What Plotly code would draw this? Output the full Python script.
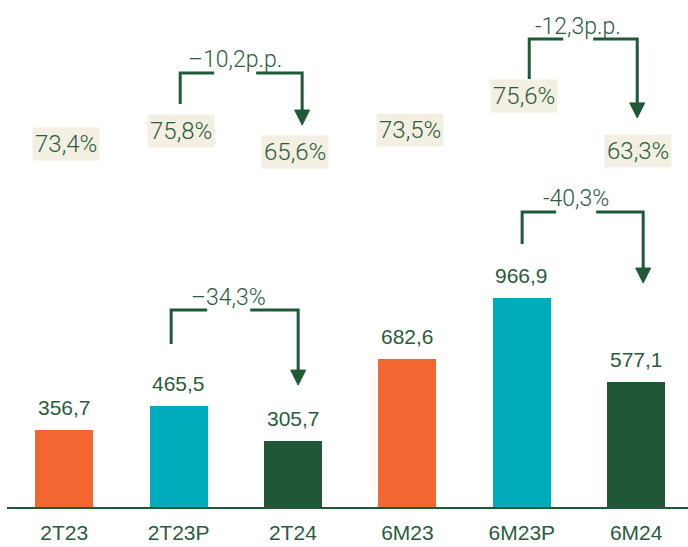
import plotly.graph_objects as go

# Data
categories = ["2T23", "2T23P", "2T24", "6M23", "6M23P", "6M24"]
values = [356.7, 465.5, 305.7, 682.6, 966.9, 577.1]
value_labels = ["356,7", "465,5", "305,7", "682,6", "966,9", "577,1"]
ratio_labels = ["73,4%", "75,8%", "65,6%", "73,5%", "75,6%", "63,3%"]
bar_colors = ["#F26631", "#00ABBC", "#1F5737", "#F26631", "#00ABBC", "#1F5737"]

# Changes shown by the bracket arrows
ratio_changes = ["–10,2p.p.", "-12,3p.p."]
value_changes = ["–34,3%", "-40,3%"]

GREEN = "#1F5A37"
TEXT = "#2A5C3E"
BEIGE = "#F3F0E3"

# Layout constants (pixel-based helpers)
W, H = 688, 547
ML, MR, MT, MB = 7, 0, 0, 40
PX_PER_CAT = 114.4
X0 = -0.5
X1 = X0 + (W - ML - MR) / PX_PER_CAT
PX_PER_UNIT = 0.21616
Y1 = (H - MB - MT) / PX_PER_UNIT

def dx(px):
    return px / PX_PER_CAT

def dy(px):
    return px / PX_PER_UNIT

xs = list(range(len(categories)))

fig = go.Figure()
fig.add_trace(go.Bar(
    x=xs, y=values, marker=dict(color=bar_colors, line=dict(width=0)),
    width=0.507, hoverinfo="skip", showlegend=False,
))

annotations = []
shapes = []

# Value labels above bars
for x, v, t in zip(xs, values, value_labels):
    annotations.append(dict(
        x=x, y=v, xref="x", yref="y", text=t, showarrow=False,
        yanchor="bottom", yshift=9,
        font=dict(family="Liberation Sans, Arial", size=21, color=TEXT),
    ))

# Ratio labels on beige boxes
ratio_heights = [1679, 1739, 1642, 1744, 1901, 1647]
for x, h, t in zip(xs, ratio_heights, ratio_labels):
    annotations.append(dict(
        x=x + 0.02, y=h, xref="x", yref="y", text=t, showarrow=False,
        bgcolor=BEIGE, borderpad=2,
        font=dict(family="Roboto", size=24, color=TEXT, weight=300),
    ))

def bracket(x_left, y_start, y_top, x_gap_l, x_gap_r, x_right, y_tip, label):
    lw = 3
    shapes.append(dict(type="path", xref="x", yref="y",
                       path=f"M {x_left} {y_start} L {x_left} {y_top} L {x_gap_l} {y_top}",
                       line=dict(color=GREEN, width=lw)))
    head = dy(15)
    shapes.append(dict(type="path", xref="x", yref="y",
                       path=f"M {x_gap_r} {y_top} L {x_right} {y_top} L {x_right} {y_tip + head}",
                       line=dict(color=GREEN, width=lw)))
    hw = dx(7.5)
    shapes.append(dict(type="path", xref="x", yref="y",
                       path=(f"M {x_right - hw} {y_tip + head} L {x_right + hw} {y_tip + head} "
                             f"L {x_right} {y_tip} Z"),
                       fillcolor=GREEN, line=dict(color=GREEN, width=1)))
    annotations.append(dict(
        x=(x_gap_l + x_gap_r) / 2, y=y_top + dy(13), xref="x", yref="y",
        text=label, showarrow=False,
        font=dict(family="Roboto", size=23, color=TEXT, weight=300),
    ))

# Ratio brackets
bracket(1.014, 1864, 2008, 1.311, 1.678, 2.08, 1767, ratio_changes[0])
bracket(4.065, 1980, 2165, 4.362, 4.624, 5.009, 1800, ratio_changes[1])
# Value brackets
bracket(0.935, 754, 911, 1.25, 1.626, 2.045, 564, value_changes[0])
bracket(4.003, 1217, 1365, 4.30, 4.65, 5.061, 1036, value_changes[1])

fig.update_layout(
    width=W, height=H,
    margin=dict(l=ML, r=MR, t=MT, b=MB),
    paper_bgcolor="white", plot_bgcolor="white",
    shapes=shapes, annotations=annotations,
    xaxis=dict(
        range=[X0, X1], tickmode="array", tickvals=xs, ticktext=categories,
        showgrid=False, zeroline=False, showline=True, linecolor=GREEN, linewidth=2,
        ticks="", ticklabelstandoff=6,
        tickfont=dict(family="Liberation Sans, Arial", size=21, color=TEXT),
        fixedrange=True,
    ),
    yaxis=dict(range=[0, Y1], visible=False, fixedrange=True),
    bargap=0,
)

fig.write_html("out.html", config={"displayModeBar": False})
